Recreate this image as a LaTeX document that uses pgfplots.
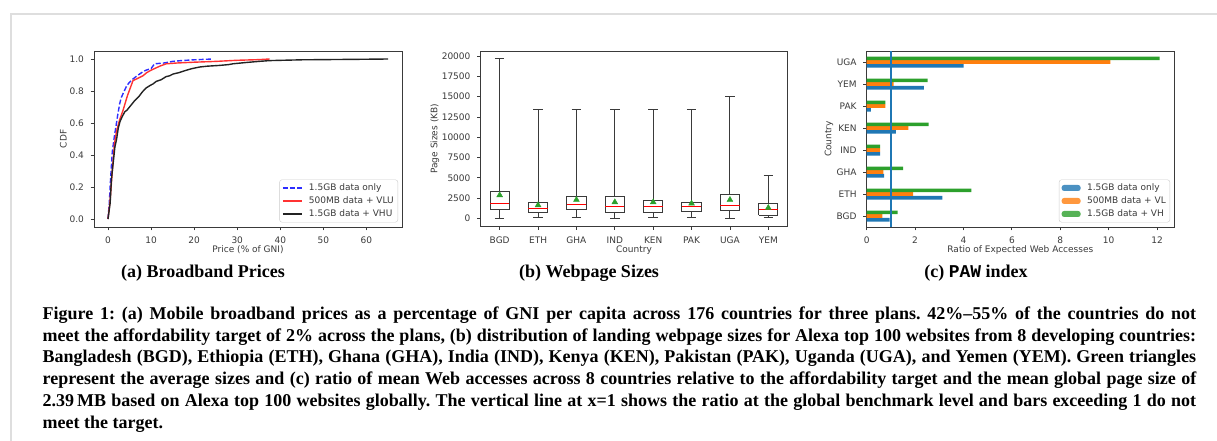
\documentclass[border=0pt]{standalone}
\usepackage{pgfplots}
\pgfplotsset{compat=1.18}
\usepackage{fontspec}
\setmainfont{Liberation Serif}
\newfontfamily\mplfont{DejaVu Sans}
\newfontfamily\codefont{Liberation Mono}

\definecolor{tabblue}{HTML}{1F77B4}
\definecolor{taborange}{HTML}{FF7F0E}
\definecolor{tabgreen}{HTML}{2CA02C}
\definecolor{inkgray}{HTML}{3A3A3A}
\definecolor{cdfblue}{RGB}{45,45,255}
\definecolor{cdfred}{RGB}{255,50,50}
\definecolor{cdfblack}{RGB}{35,35,35}
\definecolor{pageedge}{RGB}{222,222,222}

\newcommand{\mplsize}{\mplfont\fontsize{9}{10.8}\selectfont}

\pgfplotsset{
  mplaxis/.style={
    scale only axis,
    anchor=south west,
    axis line style={inkgray, line width=0.8pt},
    tick align=outside,
    tick pos=left,
    major tick length=3.3pt,
    tick style={inkgray, line width=0.8pt},
    tick label style={font=\mplsize, text=inkgray},
    xticklabel style={anchor=north, inner sep=0pt, yshift=-6.6pt},
    yticklabel style={anchor=east, inner sep=0pt, xshift=-6.6pt},
    label style={font=\mplsize, text=inkgray, inner sep=0pt},
    /pgf/number format/assume math mode=true,
    legend cell align=left,
    legend style={
      at={(axis description cs:0.987,0.026)}, anchor=south east,
      font=\mplsize,
      draw=black!20, rounded corners=2.5pt,
      fill=white, fill opacity=0.8, text opacity=1, draw opacity=1,
      inner xsep=2.5pt, inner ysep=2.5pt,
      row sep=1.5pt, column sep=5pt,
      nodes={inner sep=1.5pt, text height=6.6pt, text depth=1.9pt, text=inkgray},
    },
  },
}

% CDF of broadband prices (% of GNI per capita)
\pgfplotstableread{
x y
0 0
0.3 0.10
0.6 0.25
1.0 0.42
1.5 0.52
1.8 0.57
2.2 0.64
2.7 0.72
3.1 0.76
3.6 0.79
4.3 0.83
5.0 0.855
5.8 0.875
7.0 0.90
8.1 0.92
8.8 0.93
10.0 0.94
10.8 0.97
13.0 0.975
15.0 0.985
17.0 0.99
20.0 0.995
24.3 1.0
}\plandata

\pgfplotstableread{
x y
0 0
0.5 0.12
1.0 0.30
1.5 0.47
2.0 0.55
2.7 0.62
3.5 0.68
4.5 0.77
5.8 0.865
7.0 0.88
8.1 0.895
9.0 0.915
10.0 0.93
12.0 0.955
13.5 0.97
16.0 0.975
20.0 0.98
25.0 0.985
30.0 0.992
35.0 0.996
37.5 1.0
}\vludata

\pgfplotstableread{
x y
0 0
0.5 0.10
0.8 0.25
1.2 0.35
1.6 0.45
2.0 0.50
2.4 0.57
2.8 0.61
3.3 0.64
3.9 0.67
4.4 0.68
5.0 0.70
5.6 0.72
6.2 0.74
6.8 0.755
7.3 0.77
8.0 0.795
8.9 0.82
9.8 0.835
10.5 0.845
11.2 0.86
12.3 0.87
13.5 0.89
14.3 0.895
15.1 0.906
16.5 0.915
18.2 0.93
19.5 0.94
21.3 0.95
23.0 0.955
25.9 0.96
28.0 0.965
29.0 0.97
32.0 0.978
35.0 0.985
37.5 0.99
45.0 0.995
58.0 0.998
65.0 1.0
}\vhudata

% ratio of expected Web accesses per country
\pgfplotstableread{
pos only vl vh
0 0.95 0.65 1.28
1 3.13 1.92 4.33
2 0.72 0.69 1.50
3 0.55 0.55 0.55
4 1.20 1.72 2.56
5 0.17 0.77 0.77
6 2.36 1.11 2.52
7 4.00 10.07 12.10
}\pawdata

% page sizes (KB): mean of each country
\pgfplotstableread{
pos mean
1 2875
2 1643
3 2300
4 2012
5 2012
6 1848
7 2300
8 1314
}\pagemeans

\begin{document}
\begin{tikzpicture}
\path[use as bounding box] (0pt,0pt) rectangle (1217pt,-441pt);
\draw[pageedge, line width=2pt] (11pt,-441pt) -- (11pt,-14.5pt) -- (1217pt,-14.5pt);

% (a) broadband prices
\begin{axis}[mplaxis, at={(94pt,-227pt)}, width=308pt, height=176pt,
  xmin=-3.25, xmax=68.25, ymin=-0.05, ymax=1.05,
  xtick={0,10,20,30,40,50,60}, ytick={0,0.2,0.4,0.6,0.8,1},
  yticklabel style={/pgf/number format/.cd, fixed, fixed zerofill, precision=1},
  xlabel={Price (\% of GNI)}, ylabel={CDF},
  xlabel style={at={(axis description cs:0.5,-0.145)}, anchor=base},
  ylabel style={at={(axis description cs:-0.0886,0.5)}, anchor=base},
  legend image code/.code={\draw[#1] (0pt,0pt) -- (19pt,0pt);},
]
\addplot[cdfblue, line width=1.4pt, dash pattern=on 5pt off 2.2pt] table[x=x,y=y] {\plandata};
\addlegendentry{1.5GB data only}
\addplot[cdfred, line width=1.4pt] table[x=x,y=y] {\vludata};
\addlegendentry{500MB data + VLU}
\addplot[cdfblack, line width=1.4pt] table[x=x,y=y] {\vhudata};
\addlegendentry{1.5GB data + VHU}
\end{axis}

% (b) webpage sizes: whiskers span min..max, boxes span the quartiles
\begin{axis}[mplaxis, at={(480.5pt,-226.5pt)}, width=307pt, height=175.5pt,
  xmin=0.5, xmax=8.5, ymin=-981, ymax=20611,
  xtick={1,...,8}, xticklabels={BGD,ETH,GHA,IND,KEN,PAK,UGA,YEM},
  ytick={0,2500,5000,7500,10000,12500,15000,17500,20000},
  scaled y ticks=false,
  yticklabel style={/pgf/number format/.cd, fixed, 1000 sep={}},
  xlabel={Country}, ylabel={Page Sizes (KB)},
  xlabel style={at={(axis description cs:0.5,-0.1453)}, anchor=base},
  ylabel style={at={(axis description cs:-0.1407,0.5)}, anchor=base},
  unbounded coords=jump,
]
% BGD
\addplot[inkgray, line width=1pt] coordinates {
 (0.875,0) (1.125,0) (nan,nan) (1,0) (1,1068) (nan,nan)
 (0.75,1068) (1.25,1068) (1.25,3285) (0.75,3285) (0.75,1068) (nan,nan)
 (1,3285) (1,19630) (nan,nan) (0.875,19630) (1.125,19630)};
% ETH
\addplot[inkgray, line width=1pt] coordinates {
 (1.875,123) (2.125,123) (nan,nan) (2,123) (2,739) (nan,nan)
 (1.75,739) (2.25,739) (2.25,2012) (1.75,2012) (1.75,739) (nan,nan)
 (2,2012) (2,13470) (nan,nan) (1.875,13470) (2.125,13470)};
% GHA
\addplot[inkgray, line width=1pt] coordinates {
 (2.875,123) (3.125,123) (nan,nan) (3,123) (3,1109) (nan,nan)
 (2.75,1109) (3.25,1109) (3.25,2710) (2.75,2710) (2.75,1109) (nan,nan)
 (3,2710) (3,13470) (nan,nan) (2.875,13470) (3.125,13470)};
% IND
\addplot[inkgray, line width=1pt] coordinates {
 (3.875,0) (4.125,0) (nan,nan) (4,0) (4,739) (nan,nan)
 (3.75,739) (4.25,739) (4.25,2710) (3.75,2710) (3.75,739) (nan,nan)
 (4,2710) (4,13470) (nan,nan) (3.875,13470) (4.125,13470)};
% KEN
\addplot[inkgray, line width=1pt] coordinates {
 (4.875,123) (5.125,123) (nan,nan) (5,123) (5,739) (nan,nan)
 (4.75,739) (5.25,739) (5.25,2218) (4.75,2218) (4.75,739) (nan,nan)
 (5,2218) (5,13470) (nan,nan) (4.875,13470) (5.125,13470)};
% PAK
\addplot[inkgray, line width=1pt] coordinates {
 (5.875,123) (6.125,123) (nan,nan) (6,123) (6,862) (nan,nan)
 (5.75,862) (6.25,862) (6.25,1971) (5.75,1971) (5.75,862) (nan,nan)
 (6,1971) (6,13470) (nan,nan) (5.875,13470) (6.125,13470)};
% UGA
\addplot[inkgray, line width=1pt] coordinates {
 (6.875,0) (7.125,0) (nan,nan) (7,0) (7,945) (nan,nan)
 (6.75,945) (7.25,945) (7.25,2916) (6.75,2916) (6.75,945) (nan,nan)
 (7,2916) (7,14990) (nan,nan) (6.875,14990) (7.125,14990)};
% YEM
\addplot[inkgray, line width=1pt] coordinates {
 (7.875,123) (8.125,123) (nan,nan) (8,123) (8,411) (nan,nan)
 (7.75,411) (8.25,411) (8.25,1807) (7.75,1807) (7.75,411) (nan,nan)
 (8,1807) (8,5339) (nan,nan) (7.875,5339) (8.125,5339)};
% medians
\addplot[red, line width=1pt] coordinates {
 (0.75,1807) (1.25,1807) (nan,nan) (1.75,1273) (2.25,1273) (nan,nan)
 (2.75,1684) (3.25,1684) (nan,nan) (3.75,1478) (4.25,1478) (nan,nan)
 (4.75,1478) (5.25,1478) (nan,nan) (5.75,1478) (6.25,1478) (nan,nan)
 (6.75,1602) (7.25,1602) (nan,nan) (7.75,1068) (8.25,1068)};
% means
\addplot[only marks, mark=triangle*, mark size=3.4pt, color=tabgreen, fill=tabgreen] table[x=pos, y=mean] {\pagemeans};
\end{axis}

% (c) PAW index
\begin{axis}[mplaxis, at={(866.7pt,-227pt)}, width=307.3pt, height=176pt,
  xmin=0, xmax=12.7, ymin=-0.5, ymax=7.5,
  xtick={0,2,4,6,8,10,12}, ytick={0,...,7},
  yticklabels={BGD,ETH,GHA,IND,KEN,PAK,YEM,UGA},
  xlabel={Ratio of Expected Web Accesses}, ylabel={Country},
  xlabel style={at={(axis description cs:0.5,-0.145)}, anchor=base},
  ylabel style={at={(axis description cs:-0.115,0.5)}, anchor=base},
  legend image code/.code={\fill[#1] (0pt,-3pt) rectangle (19pt,3pt);},
]
\addplot[xbar, bar width=0.1667, bar shift=-0.1667, fill=tabblue, draw=none] table[x=only, y=pos] {\pawdata};
\addlegendentry{1.5GB data only}
\addplot[xbar, bar width=0.1667, bar shift=0, fill=taborange, draw=none] table[x=vl, y=pos] {\pawdata};
\addlegendentry{500MB data + VL}
\addplot[xbar, bar width=0.1667, bar shift=0.1667, fill=tabgreen, draw=none] table[x=vh, y=pos] {\pawdata};
\addlegendentry{1.5GB data + VH}
\addplot[tabblue, line width=1.4pt, forget plot] coordinates {(1,-0.5) (1,7.5)};
\end{axis}

% sub-figure captions
\node[anchor=base, inner sep=0pt, font=\fontsize{18}{21.6}\selectfont\bfseries] at (203pt,-277pt) {(a) Broadband Prices};
\node[anchor=base, inner sep=0pt, font=\fontsize{18}{21.6}\selectfont\bfseries] at (589pt,-277pt) {(b) Webpage Sizes};
\node[anchor=base, inner sep=0pt, font=\fontsize{18}{21.6}\selectfont\bfseries] at (976pt,-277pt) {(c) {\codefont\bfseries PAW} index};

% figure caption
\node[anchor=base west, inner sep=0pt] at (42.5pt,-319.5pt) {\parbox[t]{1153.5pt}{\fontsize{18}{21.7}\selectfont\bfseries\frenchspacing
Figure 1: (a) Mobile broadband prices as a percentage of GNI per capita across 176 countries for three plans. 42\%--55\% of the countries do not\linebreak
meet the affordability target of 2\% across the plans, (b) distribution of landing webpage sizes for Alexa top 100 websites from 8 developing countries:\linebreak
Bangladesh (BGD), Ethiopia (ETH), Ghana (GHA), India (IND), Kenya (KEN), Pakistan (PAK), Uganda (UGA), and Yemen (YEM). Green triangles\linebreak
represent the average sizes and (c) ratio of mean Web accesses across 8 countries relative to the affordability target and the mean global page size of\linebreak
2.39\,MB based on Alexa top 100 websites globally. The vertical line at x=1 shows the ratio at the global benchmark level and bars exceeding 1 do not\linebreak
meet the target.}};
\end{tikzpicture}
\end{document}
